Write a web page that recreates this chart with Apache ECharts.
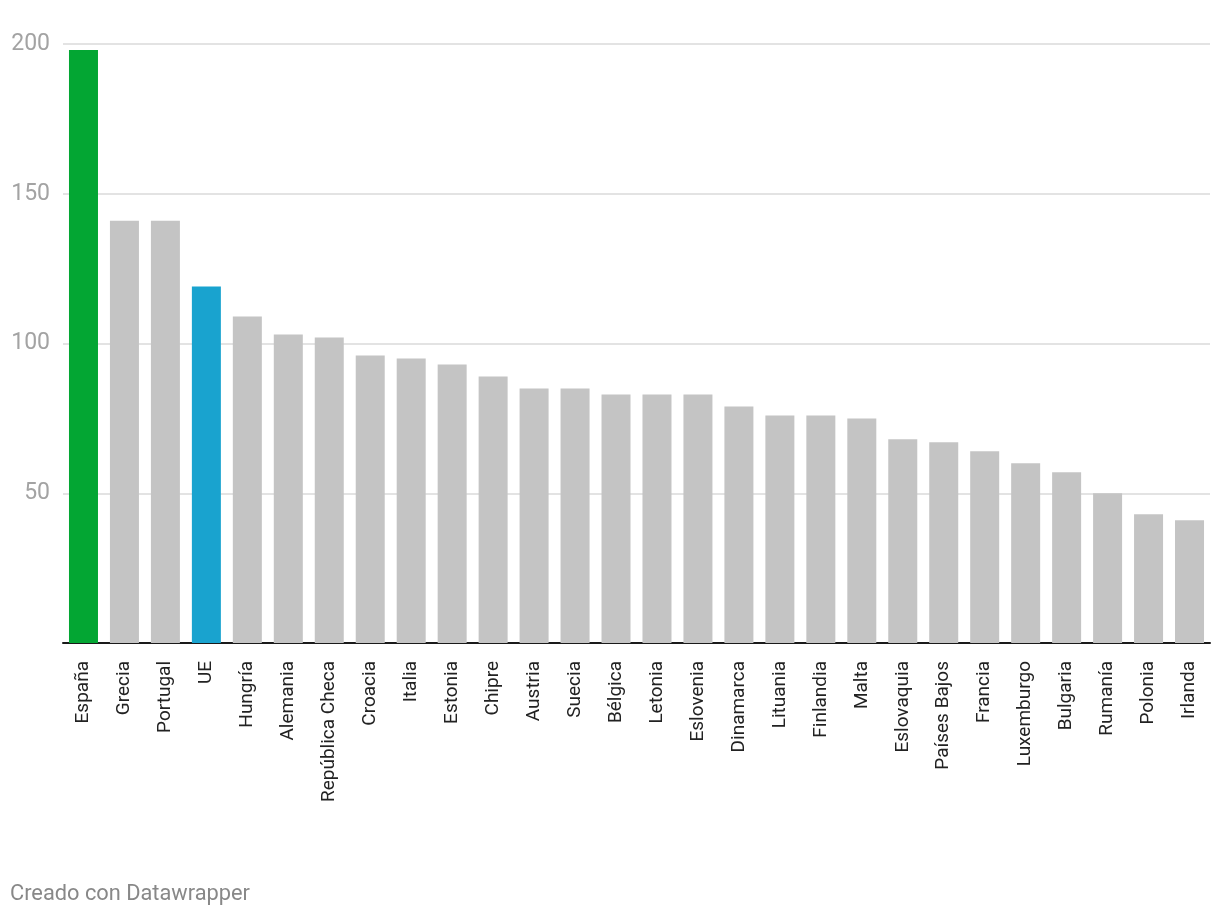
<!DOCTYPE html>
<html>
<head>
<meta charset="utf-8">
<script src="https://cdn.jsdelivr.net/npm/echarts@6/dist/echarts.min.js"></script>
<style>
html,body{margin:0;padding:0;background:#fff;}
#chart{width:1220px;height:920px;}
</style>
</head>
<body>
<div id="chart"></div>
<script>
const categories = ["España","Grecia","Portugal","UE","Hungría","Alemania","República Checa","Croacia","Italia","Estonia","Chipre","Austria","Suecia","Bélgica","Letonia","Eslovenia","Dinamarca","Lituania","Finlandia","Malta","Eslovaquia","Países Bajos","Francia","Luxemburgo","Bulgaria","Rumanía","Polonia","Irlanda"];
const values = [198,141,141,119,109,103,102,96,95,93,89,85,85,83,83,83,79,76,76,75,68,67,64,60,57,50,43,41];
const highlight = {"España":"#03a633","UE":"#19a3cf"};
const baseColor = "#c4c4c4";

const chart = echarts.init(document.getElementById('chart'));
chart.setOption({
  animation:false,
  backgroundColor:'#fff',
  textStyle:{fontFamily:'Roboto'},
  grid:{left:63,right:10,top:44,bottom:277,containLabel:false,outerBoundsMode:'none'},
  graphic:[{type:'text',left:10,top:884,style:{text:'Creado con Datawrapper',fill:'#888',font:'21.8px Roboto'}}],
  xAxis:{
    type:'category',
    data:categories,
    axisLine:{lineStyle:{color:'#1a1a1a',width:2}},
    axisTick:{show:false},
    axisLabel:{rotate:90,margin:18,fontSize:19,color:'#222',fontFamily:'Roboto',interval:0}
  },
  yAxis:{
    type:'value',min:0,max:200,interval:50,
    axisLine:{show:false},axisTick:{show:false},
    splitLine:{lineStyle:{color:'#e3e3e3',width:2}},
    axisLabel:{fontSize:23,color:'#a3a3a3',margin:13,fontFamily:'Roboto',formatter:v=>v===0?'':String(v)}
  },
  series:[{
    type:'bar',
    barWidth:29,
    data:values.map((v,i)=>({value:v,itemStyle:{color:highlight[categories[i]]||baseColor}}))
  }]
});
</script>
</body>
</html>
